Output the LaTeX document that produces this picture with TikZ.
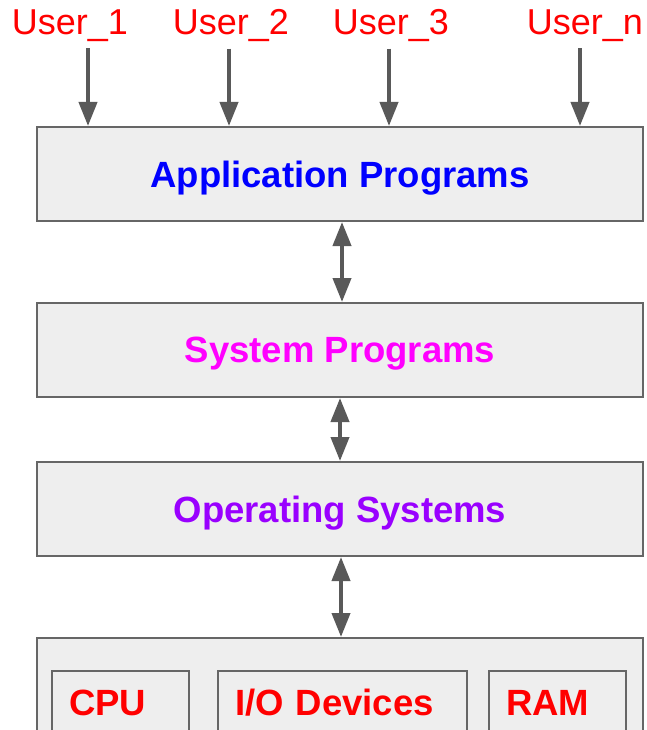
\documentclass[tikz,border=0pt]{standalone}
\usepackage{fontspec}
\setmainfont{Liberation Sans}
\usetikzlibrary{arrows.meta}

\definecolor{boxgray}{HTML}{EEEEEE}
\definecolor{edgegray}{HTML}{666666}
\definecolor{arrowgray}{HTML}{595959}
\definecolor{appblue}{HTML}{0000FF}
\definecolor{sysmagenta}{HTML}{FF00FF}
\definecolor{ospurple}{HTML}{9900FF}
\definecolor{hwred}{HTML}{FF0000}

\tikzset{
  user/.style={text=hwred, font=\fontsize{36}{40}\selectfont},
  layer/.style={draw=edgegray, line width=2pt, fill=boxgray, anchor=north west,
    minimum width=606pt, minimum height=94pt, inner sep=0pt, text depth=0pt,
    font=\fontsize{36.5}{40}\selectfont\bfseries},
  part/.style={draw=edgegray, line width=2pt, fill=boxgray, anchor=north west,
    minimum height=64pt, inner xsep=17pt, inner ysep=0pt, align=left,
    text=hwred, font=\fontsize{36.5}{40}\selectfont\bfseries},
  link/.style={draw=arrowgray, line width=4pt, shorten <=3pt,
    -{Triangle[width=18pt,length=24pt]}},
  both/.style={draw=arrowgray, line width=4pt,
    {Triangle[width=18pt,length=24pt]}-{Triangle[width=18pt,length=24pt]}},
}

\begin{document}
\begin{tikzpicture}[x=1pt,y=-1pt]
   \useasboundingbox (0,0) rectangle (646,730);
   \clip (0,0) rectangle (646,730);

   % users
   \node[user] (u1) at (70,26) {User\_1};
   \node[user] (u2) at (231,26) {User\_2};
   \node[user] (u3) at (391,26) {User\_3};
   \node[user] (un) at (585,26) {User\_n};

   % layers
   \node[layer, text=appblue] (app) at (36,126) {Application Programs};
   \node[layer, text=sysmagenta] (sys) at (36,302) {System Programs};
   \node[layer, text=ospurple] (os) at (36,461) {Operating Systems};
   \node[layer, minimum height=130pt] (hw) at (36,637) {};

   % hardware
   \node[part, text width=103pt] (cpu) at (51,670) {CPU};
   \node[part, text width=215pt] (io) at (217,670) {I/O Devices};
   \node[part, text width=103pt] (ram) at (488,670) {RAM};

   \foreach \u/\x in {u1/88,u2/229,u3/389,un/580}
     \draw[link] (\x,0 |- \u.south) -- (\x,0 |- app.north);

   \draw[both] ([xshift=2pt]app.south) -- ([xshift=2pt]sys.north);
   \draw[both] (sys.south) -- (os.north);
   \draw[both] ([xshift=1pt]os.south) -- ([xshift=1pt]hw.north);
\end{tikzpicture}
\end{document}
